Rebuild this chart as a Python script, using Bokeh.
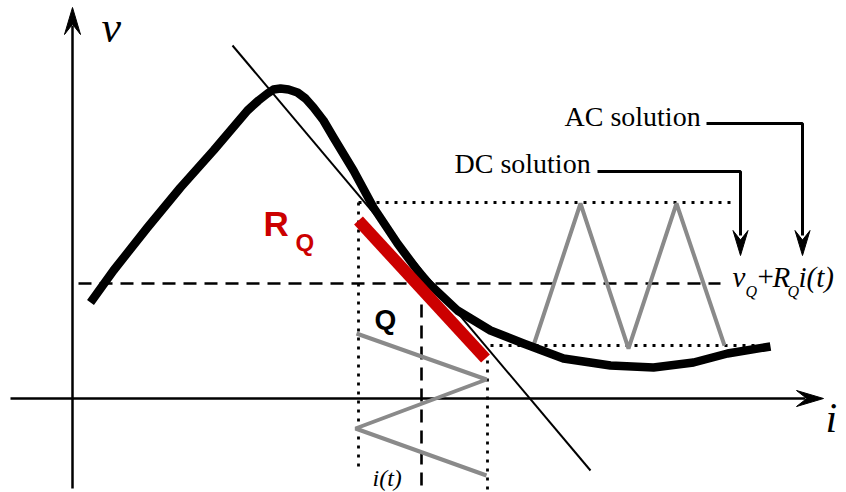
import numpy as np
from bokeh.plotting import figure
from bokeh.models import Range1d
from bokeh.core.properties import value
from bokeh.embed import file_html
from bokeh.resources import INLINE

W, H = 846, 492

# Nonlinear characteristic v(i) (screen units, y grows downward)
curve_x = [90, 113, 147, 180, 213, 247, 258, 267, 273, 280, 288, 297, 305, 313, 323,
           333, 353, 373, 397, 423, 457, 490, 523, 563, 610, 653, 693, 727, 770]
curve_y = [302, 270, 227, 187, 150, 110, 100, 93, 89, 88, 89, 92, 98, 107, 120,
           137, 170, 207, 243, 278, 310, 330, 343, 358, 365, 367, 362, 353, 346]

# Tangent at the operating point
tan_x = [232, 590]
tan_y = [45, 470]

# Small-signal resistance segment R_Q
rq_x = [358, 485]
rq_y = [220, 358]

# Triangular current input i(t) and voltage response
it_x = [356, 486, 355, 486]
it_y = [333, 379, 428, 475]
vt_x = [533, 580, 628, 676, 724]
vt_y = [345, 203, 348, 203, 345]

p = figure(width=W, height=H, output_backend="svg", toolbar_location=None,
           x_range=Range1d(0, W), y_range=Range1d(H, 0), min_border=0)
p.axis.visible = False
p.grid.visible = False
p.outline_line_color = None
p.background_fill_color = "white"
p.border_fill_color = "white"


def arrow_head(tip_x, tip_y, dx, dy, length, width):
    """Notched (barbed) arrowhead pointing along (dx, dy)."""
    n = np.hypot(dx, dy)
    ux, uy = dx / n, dy / n
    px, py = -uy, ux
    bx, by = tip_x - ux * length, tip_y - uy * length
    nx, ny = tip_x - ux * length * 0.62, tip_y - uy * length * 0.62
    xs = [tip_x, bx + px * width / 2, nx, bx - px * width / 2]
    ys = [tip_y, by + py * width / 2, ny, by - py * width / 2]
    p.patch(xs, ys, fill_color="black", line_color="black", line_width=1)


# Axes
p.line([72, 72], [488, 25], line_color="black", line_width=2.5)
arrow_head(72, 7, 0, -1, 27, 16)
p.line([10, 805], [398, 398], line_color="black", line_width=2.5)
arrow_head(823, 398, 1, 0, 27, 16)

# Guide lines
p.line([78, 720], [283, 283], line_color="black", line_width=2.6, line_dash="13 8")
p.line([421, 421], [304, 492], line_color="black", line_width=2.6, line_dash="13 8")
p.line([358, 358], [202, 470], line_color="black", line_width=2.8, line_dash="3 6")
p.line([487, 487], [360, 492], line_color="black", line_width=2.8, line_dash="3 6")
p.line([358, 735], [202, 202], line_color="black", line_width=2.8, line_dash="3 6")
p.line([490, 765], [345, 345], line_color="black", line_width=2.8, line_dash="3 6")

# Triangle waves
p.line(it_x, it_y, line_color="#8a8a8a", line_width=4)
p.line(vt_x, vt_y, line_color="#8a8a8a", line_width=4)

# Characteristic, tangent and R_Q segment
p.line(tan_x, tan_y, line_color="black", line_width=2)
p.line(curve_x, curve_y, line_color="black", line_width=8.5, line_join="round")
p.line(rq_x, rq_y, line_color="#cc0000", line_width=12)

# Callout leaders
p.line([706, 802, 802], [123, 123, 235], line_color="black", line_width=3)
arrow_head(802, 255, 0, 1, 25, 15)
p.line([597, 740, 740], [171, 171, 235], line_color="black", line_width=3)
arrow_head(740, 255, 0, 1, 25, 15)

serif = value("Liberation Serif")
sans = value("Liberation Sans")


def label(x, y, s, size, font=serif, style="normal", color="black"):
    p.text([x], [y], text=[s], text_font=font, text_font_style=style,
           text_color=color, text_font_size=size, text_align="left",
           text_baseline="middle")


label(101, 27, "v", "44px", style="italic")
label(825, 417, "i", "42px", style="italic")
label(564, 116, "AC solution", "28px")
label(454, 163, "DC solution", "28px")
label(263, 223, "R", "35px", font=sans, style="bold", color="#cc0000")
label(295, 242, "Q", "24px", font=sans, style="bold", color="#cc0000")
label(374, 319, "Q", "28px", font=sans, style="bold")
label(372, 477, "i(t)", "24px", style="italic")

# v_Q + R_Q i(t)
label(732, 276, "v", "29px", style="italic")
label(745, 291, "Q", "16px", style="italic")
label(757, 276, "+", "29px")
label(772, 276, "R", "29px", style="italic")
label(787, 291, "Q", "16px", style="italic")
label(798, 276, "i(t)", "29px", style="italic")

open("out.html", "w").write(file_html(p, INLINE))
